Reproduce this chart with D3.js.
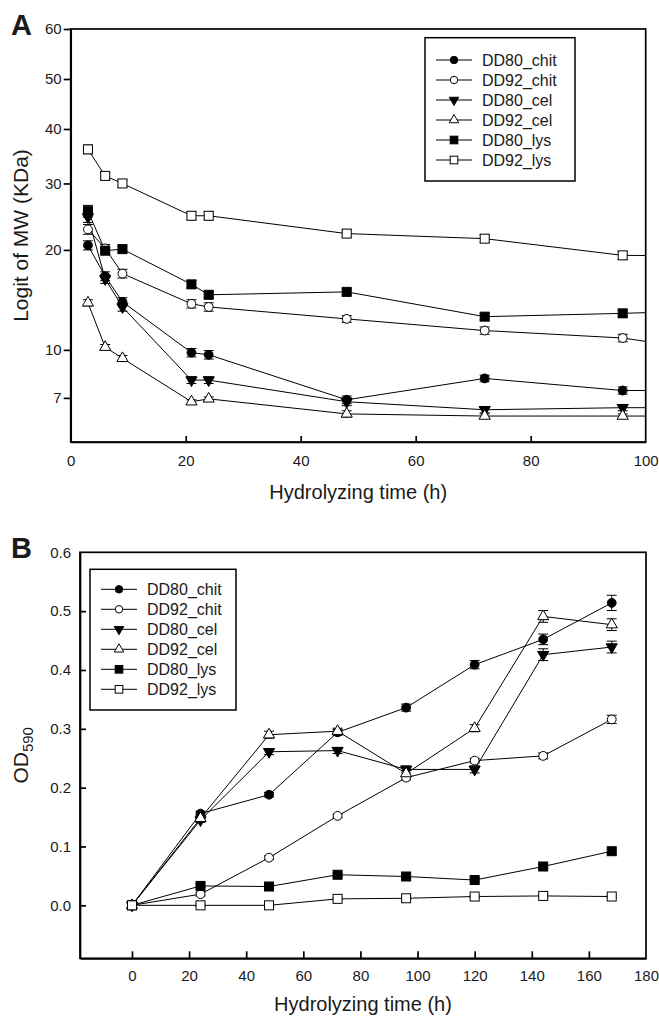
<!DOCTYPE html>
<meta charset="utf-8">
<style>
body{margin:0;background:#fff;font-family:"Liberation Sans",Arial,helvetica;}
svg text{fill:#1a1a1a;}
</style>
<script src="https://cdn.jsdelivr.net/npm/d3@7"></script>
<svg id="fig" width="659" height="1019"></svg>
<script>

var seriesNames = ["DD80_chit","DD92_chit","DD80_cel","DD92_cel","DD80_lys","DD92_lys"]
var markerKind = ["circle","circle","down","up","square","square"]
var markerFill = [true,false,true,false,true,false]

// panel A - MW (kDa). last time point sits past the 100 h axis end, only its line shows
var timeA = [3,6,9,21,24,48,72,96,120]
var mwDD80chit = [20.6,16.8,14.1,9.8,9.65,6.9,8.1,7.4,7.4]
var mwDD92chit = [22.8,20.2,17.1,13.9,13.6,12.5,11.5,10.9,9.4]
var mwDD80cel = [24.6,16.5,13.6,8.0,8.0,6.8,6.4,6.5,6.5]
var mwDD92cel = [14.0,10.2,9.4,6.8,6.95,6.2,6.1,6.1,6.1]
var mwDD80lys = [25.5,19.9,20.1,15.9,14.8,15.1,12.7,13.0,13.4]
var mwDD92lys = [36.1,31.3,30.0,24.8,24.8,22.2,21.5,19.3,19.2]
var errDD80chit = [0.6,0.5,0.4,0.3,0.3,0.2,0.2,0.2,0]
var errDD92chit = [0.7,0.5,0.5,0.4,0.4,0.3,0.3,0.3,0]
var errDD80cel = [0.8,0.5,0.4,0.2,0.2,0.2,0.15,0.15,0]
var errDD92cel = [0.3,0.2,0.2,0.1,0.1,0.15,0.1,0.1,0]
var errDD80lys = [0.9,0.5,0.4,0.4,0.3,0.3,0.3,0.3,0]
var errDD92lys = [0.8,0.6,0.6,0.6,0.6,0.5,0.5,0.5,0]
var xTicksA = [0,20,40,60,80,100]
var yTicksA = [7,10,20,30,40,50,60]

// panel B - OD590
var timeB = [0,24,48,72,96,120,144,168]
var odDD80chit = [0,0.156,0.188,0.294,0.336,0.409,0.452,0.514]
var odDD92chit = [0,0.019,0.081,0.152,0.217,0.246,0.254,0.316]
var odDD80cel = [0,0.145,0.261,0.263,0.231,0.231,0.426,0.439]
var odDD92cel = [0,0.148,0.290,0.296,0.224,0.301,0.491,0.477]
var odDD80lys = [0,0.033,0.032,0.052,0.049,0.043,0.066,0.092]
var odDD92lys = [0,0,0,0.011,0.012,0.015,0.016,0.015]
var sdDD80chit = [0,0.004,0.004,0.005,0.006,0.007,0.009,0.013]
var sdDD92chit = [0,0.003,0.003,0.003,0.004,0.004,0.005,0.007]
var sdDD80cel = [0,0.004,0.005,0.005,0.006,0.006,0.01,0.01]
var sdDD92cel = [0,0.004,0.006,0.005,0.005,0.006,0.01,0.01]
var sdDD80lys = [0,0.003,0.003,0.003,0.003,0.003,0.003,0.003]
var sdDD92lys = [0,0.002,0.002,0.002,0.002,0.002,0.002,0.002]
var xTicksB = [0,20,40,60,80,100,120,140,160,180]
var yTicksB = [0,0.1,0.2,0.3,0.4,0.5,0.6]

var valsA = [mwDD80chit,mwDD92chit,mwDD80cel,mwDD92cel,mwDD80lys,mwDD92lys]
var errsA = [errDD80chit,errDD92chit,errDD80cel,errDD92cel,errDD80lys,errDD92lys]
var valsB = [odDD80chit,odDD92chit,odDD80cel,odDD92cel,odDD80lys,odDD92lys]
var errsB = [sdDD80chit,sdDD92chit,sdDD80cel,sdDD92cel,sdDD80lys,sdDD92lys]

var svg = d3.select("#fig")

function logit(v){ var p = v/100; return Math.log(p/(1-p)) }

function marker(g, kind, filled, x, y, big){
	var s = big ? 1 : 0.85
	var m
	if(kind=="circle"){
		m = g.append("circle").attr("cx",x).attr("cy",y).attr("r",4.4*s)
	} else if(kind=="square"){
		var h = 4.5*s
		m = g.append("rect").attr("x",x-h).attr("y",y-h).attr("width",2*h).attr("height",2*h)
	} else {
		var sym = d3.symbol().type(d3.symbolTriangle).size(54*s*s)
		m = g.append("path").attr("d",sym())
			.attr("transform","translate("+x+","+y+")"+(kind=="down"?" rotate(180)":""))
	}
	m.attr("fill",filled?"#000":"#fff").attr("stroke","#000").attr("stroke-width",1)
}

function drawSeries(g, times, vals, errs, x, y){
	var line = d3.line().x(function(d){return x(d[0])}).y(function(d){return y(d[1])})
	vals.forEach(function(v,k){
		g.append("path").datum(times.map(function(t,i){return [t,v[i]]}))
			.attr("d",line).attr("fill","none").attr("stroke","#000").attr("stroke-width",1)
	})
	vals.forEach(function(v,k){
		times.forEach(function(t,i){
			var e = errs[k][i]
			if(!e) return
			var cx = x(t), y1 = y(v[i]-e), y2 = y(v[i]+e)
			g.append("line").attr("x1",cx).attr("x2",cx).attr("y1",y1).attr("y2",y2).attr("stroke","#000")
			g.append("line").attr("x1",cx-5).attr("x2",cx+5).attr("y1",y1).attr("y2",y1).attr("stroke","#000")
			g.append("line").attr("x1",cx-5).attr("x2",cx+5).attr("y1",y2).attr("y2",y2).attr("stroke","#000")
		})
	})
	vals.forEach(function(v,k){
		times.forEach(function(t,i){
			marker(g, markerKind[k], markerFill[k], x(t), y(v[i]), true)
		})
	})
}

function legend(x0, y0, w, h, rowY){
	var g = svg.append("g")
	g.append("rect").attr("x",x0).attr("y",y0).attr("width",w).attr("height",h)
		.attr("fill","#fff").attr("stroke","#000").attr("stroke-width",1.5)
	seriesNames.forEach(function(n,k){
		var yy = rowY + k*20
		g.append("line").attr("x1",x0+11).attr("x2",x0+47).attr("y1",yy).attr("y2",yy).attr("stroke","#000")
		marker(g, markerKind[k], markerFill[k], x0+29, yy, false)
		g.append("text").attr("x",x0+57).attr("y",yy+6).style("font-size","16px").text(n)
	})
}

function frame(l,r,t,b){
	svg.append("rect").attr("x",l).attr("y",t).attr("width",r-l).attr("height",b-t)
		.attr("fill","none").attr("stroke","#000").attr("stroke-width",1.7)
}

// ---- panel A ----
var aL=70.7, aR=645.7, aT=29, aB=442
var xA = d3.scaleLinear().domain([0,100]).range([aL,aR])
var yAlin = d3.scaleLinear().domain([logit(5),logit(60)]).range([aB,aT])
var yA = function(v){ return yAlin(logit(v)) }

svg.append("clipPath").attr("id","clipA").append("rect")
	.attr("x",aL).attr("y",aT).attr("width",aR-aL).attr("height",aB-aT)
var gA = svg.append("g").attr("clip-path","url(#clipA)")
drawSeries(gA, timeA, valsA, errsA, xA, yA)

var axA = svg.append("g").attr("class","ax").attr("transform","translate(0,"+aB+")")
	.call(d3.axisBottom(xA).tickValues(xTicksA).tickSizeInner(-6).tickSizeOuter(0).tickPadding(13))
axA.selectAll(".tick").filter(function(d){return d==0||d==100}).select("line").remove()
svg.append("g").attr("class","ax").attr("transform","translate("+aL+",0)")
	.call(d3.axisLeft(yAlin).tickValues(yTicksA.map(logit)).tickFormat(function(d,i){return yTicksA[i]})
		.tickSizeInner(7).tickSizeOuter(0).tickPadding(2))
frame(aL,aR,aT,aB)

svg.append("text").attr("x",(aL+aR)/2).attr("y",499).attr("text-anchor","middle")
	.style("font-size","20px").text("Hydrolyzing time (h)")
svg.append("text").attr("transform","translate(28,"+((aT+aB)/2)+") rotate(-90)")
	.attr("text-anchor","middle").style("font-size","21px").text("Logit of MW (KDa)")
svg.append("text").attr("x",11).attr("y",35).style("font-size","29px").style("font-weight","bold").text("A")
legend(425,37.7,150,143.3,60)

// ---- panel B ----
var bL=80, bR=646, bT=552.3, bB=958.3
var xB = d3.scaleLinear().domain([-18.2,180]).range([bL,bR])
var yB = d3.scaleLinear().domain([-0.09,0.6]).range([bB,bT])

drawSeries(svg.append("g"), timeB, valsB, errsB, xB, yB)

var axB = svg.append("g").attr("class","ax").attr("transform","translate(0,"+bB+")")
	.call(d3.axisBottom(xB).tickValues(xTicksB).tickSizeInner(-7).tickSizeOuter(0).tickPadding(12))
axB.selectAll(".tick").filter(function(d){return d==180}).select("line").remove()
var ayB = svg.append("g").attr("class","ax").attr("transform","translate("+bL+",0)")
	.call(d3.axisLeft(yB).tickValues(yTicksB).tickFormat(d3.format(".1f"))
		.tickSizeInner(-6).tickSizeOuter(0).tickPadding(9))
ayB.selectAll(".tick").filter(function(d){return d==0.6}).select("line").remove()
frame(bL,bR,bT,bB)

svg.append("text").attr("x",(bL+bR)/2).attr("y",1011).attr("text-anchor","middle")
	.style("font-size","20px").text("Hydrolyzing time (h)")
var od = svg.append("text").attr("transform","translate(28,"+((bT+bB)/2)+") rotate(-90)")
	.attr("text-anchor","middle").style("font-size","21px")
od.append("tspan").text("OD")
od.append("tspan").attr("dy",5).style("font-size","15px").text("590")
svg.append("text").attr("x",11).attr("y",558).style("font-size","29px").style("font-weight","bold").text("B")
legend(90,569.3,146,140.7,589.3)

// axis styling
svg.selectAll(".ax .domain").attr("stroke","#000").attr("stroke-width",1.7)
svg.selectAll(".ax .tick line").attr("stroke","#000").attr("stroke-width",1.7)
svg.selectAll(".ax .tick text").style("font-size","15px").style("font-family","'Liberation Sans',Arial").attr("fill","#1a1a1a")

</script>
